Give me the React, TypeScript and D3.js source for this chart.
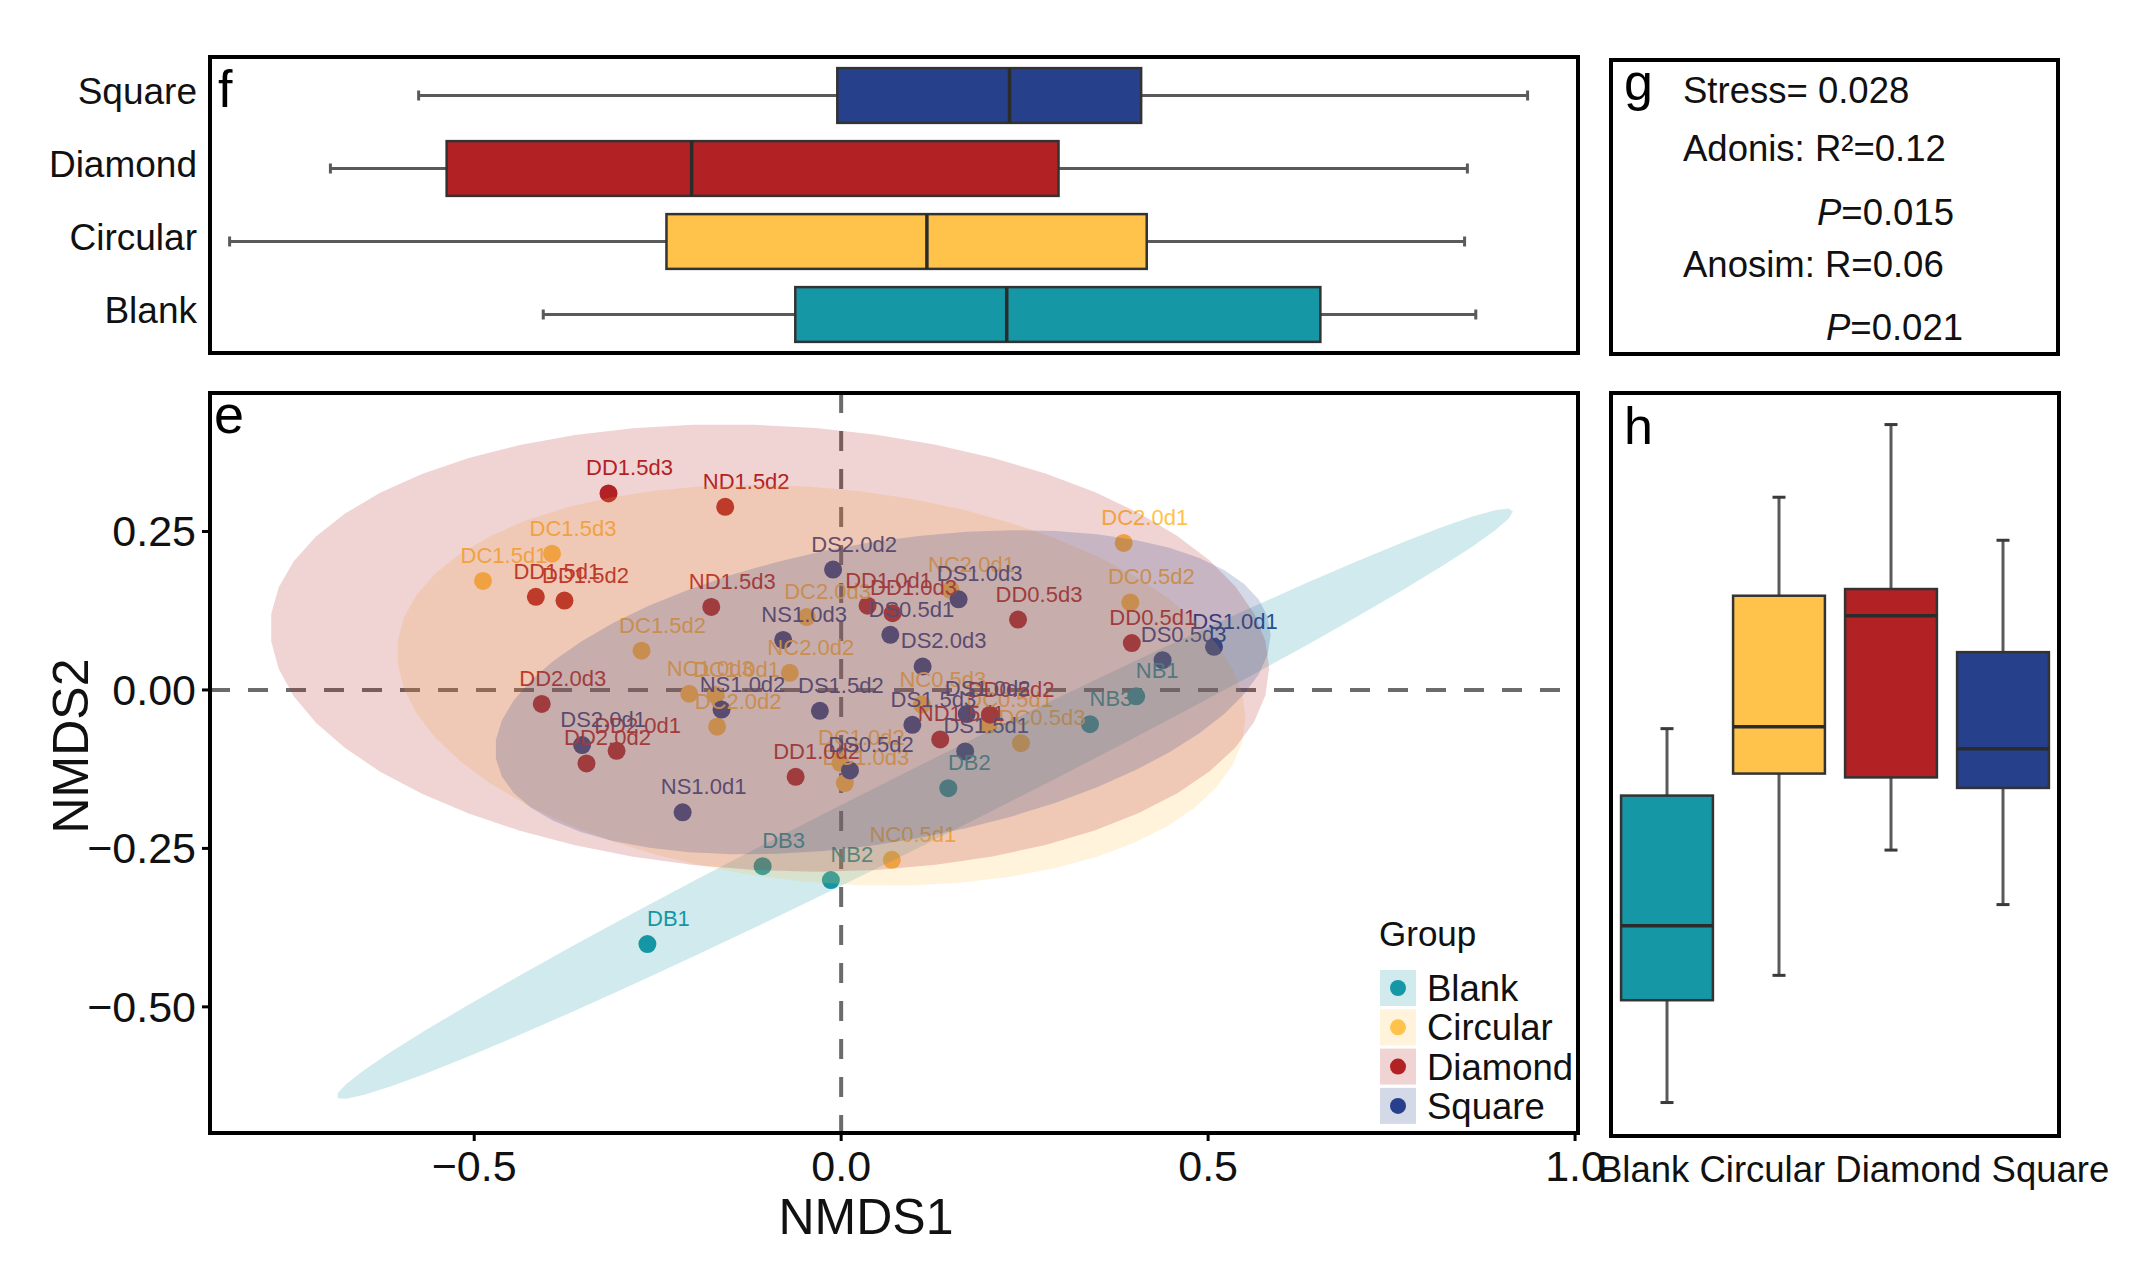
import React from 'react';
import * as d3 from 'd3';

// ---------- data ----------
const groups = ['Blank', 'Circular', 'Diamond', 'Square'];
const groupColors = ['#1597A5', '#FFC24A', '#B22225', '#26408B'];

// NMDS scores: [label, NMDS1, NMDS2]
const blankPoints: [string, number, number][] = [
  ['DB1', -0.264, -0.401], ['DB3', -0.107, -0.278], ['NB2', -0.014, -0.300],
  ['DB2', 0.146, -0.155], ['NB3', 0.339, -0.054], ['NB1', 0.402, -0.010],
];
const circularPoints: [string, number, number][] = [
  ['DC1.5d3', -0.394, 0.215], ['DC1.5d1', -0.488, 0.172], ['DC1.5d2', -0.272, 0.062],
  ['DC2.0d3', -0.047, 0.115], ['NC2.0d2', -0.070, 0.027], ['NC1.0d3', -0.207, -0.006],
  ['DC1.0d1', -0.171, -0.008], ['DC2.0d2', -0.169, -0.058], ['DC2.0d1', 0.385, 0.232],
  ['DC0.5d2', 0.394, 0.138], ['NC2.0d1', 0.149, 0.158], ['NC0.5d3', 0.110, -0.023],
  ['DC0.5d3', 0.245, -0.084], ['DC0.5d1', 0.201, -0.055], ['DC1.0d2', -0.001, -0.115],
  ['DC1.0d3', 0.005, -0.147], ['NC0.5d1', 0.069, -0.268],
];
const diamondPoints: [string, number, number][] = [
  ['DD1.5d3', -0.317, 0.310], ['ND1.5d2', -0.158, 0.289], ['DD1.5d1', -0.416, 0.147],
  ['DD1.5d2', -0.377, 0.141], ['ND1.5d3', -0.177, 0.131], ['DD1.0d1', 0.036, 0.133],
  ['DD1.0d3', 0.070, 0.121], ['DD0.5d3', 0.241, 0.111], ['DD0.5d1', 0.396, 0.074],
  ['DD2.0d3', -0.408, -0.022], ['DD2.0d1', -0.306, -0.096], ['DD2.0d2', -0.347, -0.116],
  ['DD1.0d2', -0.062, -0.137], ['ND1.5d1', 0.135, -0.078], ['DD0.5d2', 0.203, -0.039],
];
const squarePoints: [string, number, number][] = [
  ['DS2.0d2', -0.011, 0.190], ['DS1.0d3', 0.160, 0.143], ['DS0.5d1', 0.067, 0.087],
  ['NS1.0d3', -0.079, 0.079], ['DS2.0d3', 0.111, 0.037], ['NS1.0d2', -0.163, -0.031],
  ['DS1.5d2', -0.029, -0.033], ['DS1.5d3', 0.097, -0.055], ['DS1.0d2', 0.171, -0.038],
  ['DS1.5d1', 0.169, -0.097], ['DS0.5d2', 0.012, -0.127], ['NS1.0d1', -0.216, -0.193],
  ['DS2.0d1', -0.353, -0.087], ['DS0.5d3', 0.438, 0.047], ['DS1.0d1', 0.508, 0.068],
];
const groupPoints = [blankPoints, circularPoints, diamondPoints, squarePoints];

// boxplot statistics (order: Blank, Circular, Diamond, Square)
const nmds1Min = [-0.264, -0.488, -0.416, -0.353];
const nmds1Q1 = [-0.084, -0.176, -0.333, -0.054];
const nmds1Median = [0.067, 0.010, -0.158, 0.069];
const nmds1Q3 = [0.291, 0.167, 0.104, 0.163];
const nmds1Max = [0.402, 0.394, 0.396, 0.439];

const nmds2Min = [-0.401, -0.268, -0.137, -0.194];
const nmds2Q1 = [-0.294, -0.057, -0.061, -0.072];
const nmds2Median = [-0.216, -0.008, 0.108, -0.031];
const nmds2Q3 = [-0.080, 0.129, 0.136, 0.070];
const nmds2Max = [-0.010, 0.232, 0.308, 0.187];

const xTicks = [-0.5, 0, 0.5, 1.0];
const yTicks = [-0.5, -0.25, 0, 0.25];

const statLines = ['Stress= 0.028', 'Adonis: R²=0.12', '=0.015', 'Anosim: R=0.06', '=0.021'];

// ---------- stat_ellipse (type = "t", MASS::cov.trob) ----------
function tEllipse(pts: [string, number, number][], level = 0.95, segments = 51) {
  const n = pts.length, p = 2, nu = 5;
  const xs = pts.map(d => [d[1], d[2]]);
  let loc = [d3.mean(xs, d => d[0]) as number, d3.mean(xs, d => d[1]) as number];
  let w = xs.map(() => 1);
  let X = xs.map(d => [d[0] - loc[0], d[1] - loc[1]]);
  for (let iter = 0; iter < 25; iter++) {
    const w0 = w.slice();
    X = xs.map(d => [d[0] - loc[0], d[1] - loc[1]]);
    const sw = d3.sum(w);
    let a = 0, b = 0, c = 0;
    X.forEach((v, i) => {
      const f = w[i] / sw;
      a += f * v[0] * v[0]; b += f * v[0] * v[1]; c += f * v[1] * v[1];
    });
    const det = a * c - b * b;
    const Q = X.map(v => (c * v[0] * v[0] - 2 * b * v[0] * v[1] + a * v[1] * v[1]) / det);
    w = Q.map(q => (nu + p) / (nu + q));
    const sw2 = d3.sum(w);
    loc = [d3.sum(xs.map((d, i) => w[i] * d[0])) / sw2, d3.sum(xs.map((d, i) => w[i] * d[1])) / sw2];
    if (w.every((wi, i) => Math.abs(wi - w0[i]) < 0.01)) break;
  }
  let a = 0, b = 0, c = 0;
  X.forEach((v, i) => {
    a += w[i] * v[0] * v[0]; b += w[i] * v[0] * v[1]; c += w[i] * v[1] * v[1];
  });
  a /= n; b /= n; c /= n;
  const dfd = n - 1;
  const F = (dfd / 2) * (Math.pow(1 - level, -2 / dfd) - 1);
  const radius = Math.sqrt(2 * F);
  const r11 = Math.sqrt(a), r12 = b / r11, r22 = Math.sqrt(Math.max(c - r12 * r12, 0));
  const out: [number, number][] = [];
  for (let i = 0; i <= segments; i++) {
    const t = (i * 2 * Math.PI) / segments;
    out.push([loc[0] + radius * Math.cos(t) * r11, loc[1] + radius * (Math.cos(t) * r12 + Math.sin(t) * r22)]);
  }
  return out;
}

const FONT = "'Liberation Sans', Arial, Helvetica, sans-serif";

export default function App() {
  const W = 2152, H = 1271;

  // panel e
  const eL = 210, eR = 1578, eT = 393, eB = 1133;
  const xE = d3.scaleLinear().domain([-0.86, 1.004]).range([eL, eR]);
  const yE = d3.scaleLinear().domain([-0.699, 0.4685]).range([eB, eT]);

  // panel f
  const fT = 57, fB = 353;
  const xF = d3.scaleLinear().domain([-0.502, 0.475]).range([eL, eR]);
  const yF = d3.scaleBand().domain(['Square', 'Diamond', 'Circular', 'Blank']).range([fT + 2, fB - 2]);

  // panel g
  const gL = 1611, gR = 2058, gT = 60, gB = 354;

  // panel h
  const hL = 1611, hR = 2059, hT = 393, hB = 1136;
  const xH = d3.scaleBand().domain(groups).range([hL, hR]);
  const yH = d3.scaleLinear().domain([-0.436, 0.341]).range([hB, hT]);

  const fmt1 = d3.format('.1f');
  const fmt2 = d3.format('.2f');
  const ellLine = d3.line<[number, number]>().x(d => xE(d[0])).y(d => yE(d[1])).curve(d3.curveLinearClosed);

  const boxH = yF.bandwidth() * 0.75;
  const boxW = xH.bandwidth() * 0.82;

  return (
    <svg width={W} height={H} style={{ position: 'absolute', left: 0, top: 0 }} fontFamily={FONT}>
      <rect x={0} y={0} width={W} height={H} fill="#ffffff" />

      {/* ---------- panel f ---------- */}
      <g>
        {groups.map((g, i) => {
          const cy = (yF(g) as number) + yF.bandwidth() / 2;
          return (
            <g key={g}>
              <line x1={xF(nmds1Min[i])} x2={xF(nmds1Q1[i])} y1={cy} y2={cy} stroke="#5a5a5a" strokeWidth={3} />
              <line x1={xF(nmds1Q3[i])} x2={xF(nmds1Max[i])} y1={cy} y2={cy} stroke="#5a5a5a" strokeWidth={3} />
              <line x1={xF(nmds1Min[i])} x2={xF(nmds1Min[i])} y1={cy - 5} y2={cy + 5} stroke="#5a5a5a" strokeWidth={3} />
              <line x1={xF(nmds1Max[i])} x2={xF(nmds1Max[i])} y1={cy - 5} y2={cy + 5} stroke="#5a5a5a" strokeWidth={3} />
              <rect x={xF(nmds1Q1[i])} y={cy - boxH / 2} width={xF(nmds1Q3[i]) - xF(nmds1Q1[i])} height={boxH}
                fill={groupColors[i]} stroke="#333333" strokeWidth={2.5} />
              <line x1={xF(nmds1Median[i])} x2={xF(nmds1Median[i])} y1={cy - boxH / 2} y2={cy + boxH / 2} stroke="#2b2b2b" strokeWidth={3.5} />
              <text x={197} y={cy + 8} textAnchor="end" fontSize={37} fill="#111">{g}</text>
            </g>
          );
        })}
        <rect x={eL} y={fT} width={eR - eL} height={fB - fT} fill="none" stroke="#000" strokeWidth={4} />
        <text x={218} y={107} fontSize={52} fill="#000">f</text>
      </g>

      {/* ---------- panel g ---------- */}
      <g>
        <rect x={gL} y={gT} width={gR - gL} height={gB - gT} fill="none" stroke="#000" strokeWidth={4} />
        <text x={1624} y={100} fontSize={52} fill="#000">g</text>
        <text x={1683} y={103} fontSize={36.5} fill="#111">{statLines[0]}</text>
        <text x={1683} y={161} fontSize={36.5} fill="#111">{statLines[1]}</text>
        <text x={1817} y={225} fontSize={36.5} fill="#111"><tspan fontStyle="italic">P</tspan>{statLines[2]}</text>
        <text x={1683} y={277} fontSize={36.5} fill="#111">{statLines[3]}</text>
        <text x={1826} y={340} fontSize={36.5} fill="#111"><tspan fontStyle="italic">P</tspan>{statLines[4]}</text>
      </g>

      {/* ---------- panel e ---------- */}
      <g>
        <line x1={xE(0)} x2={xE(0)} y1={eT} y2={eB} stroke="#6b6b6b" strokeWidth={4} strokeDasharray="20 18" />
        <line x1={eL} x2={eR} y1={yE(0)} y2={yE(0)} stroke="#6b6b6b" strokeWidth={4} strokeDasharray="20 18" />
        {groupPoints.map((pts, gi) =>
          pts.map(d => (
            <circle key={d[0]} cx={xE(d[1])} cy={yE(d[2])} r={9} fill={groupColors[gi]} />
          ))
        )}
        {groupPoints.map((pts, gi) =>
          pts.map(d => (
            <text key={'t' + d[0]} x={xE(d[1]) + 21} y={yE(d[2]) - 18} textAnchor="middle" fontSize={22} fill={groupColors[gi]}>{d[0]}</text>
          ))
        )}
        {groupPoints.map((pts, gi) => (
          <path key={'e' + gi} d={ellLine(tEllipse(pts)) as string} fill={groupColors[gi]} fillOpacity={0.2} stroke="none" />
        ))}
        <rect x={eL} y={eT} width={eR - eL} height={eB - eT} fill="none" stroke="#000" strokeWidth={4} />
        <text x={214} y={433} fontSize={54} fill="#000">e</text>

        {/* axes */}
        {xTicks.map(t => (
          <g key={'xt' + t}>
            <line x1={xE(t)} x2={xE(t)} y1={eB} y2={eB + 8} stroke="#000" strokeWidth={3} />
            <text x={xE(t)} y={1181} textAnchor="middle" fontSize={43} fill="#111">{fmt1(t)}</text>
          </g>
        ))}
        {yTicks.map(t => (
          <g key={'yt' + t}>
            <line x1={eL - 8} x2={eL} y1={yE(t)} y2={yE(t)} stroke="#000" strokeWidth={3} />
            <text x={196} y={yE(t) + 15} textAnchor="end" fontSize={43} fill="#111">{fmt2(t)}</text>
          </g>
        ))}
        <text x={866} y={1234} textAnchor="middle" fontSize={50} fill="#111">NMDS1</text>
        <text transform={`translate(88, 746) rotate(-90)`} textAnchor="middle" fontSize={50} fill="#111">NMDS2</text>

        {/* legend */}
        <text x={1379} y={946} fontSize={35} fill="#111">Group</text>
        {groups.map((g, i) => {
          const ky = 970 + i * 39.3;
          return (
            <g key={'lg' + g}>
              <rect x={1380} y={ky} width={36} height={36} fill={groupColors[i]} fillOpacity={0.2} />
              <circle cx={1398} cy={ky + 18} r={8} fill={groupColors[i]} />
              <text x={1427} y={ky + 31} fontSize={36.5} fill="#111">{g}</text>
            </g>
          );
        })}
      </g>

      {/* ---------- panel h ---------- */}
      <g>
        {groups.map((g, i) => {
          const cx = (xH(g) as number) + xH.bandwidth() / 2;
          return (
            <g key={'h' + g}>
              <line x1={cx} x2={cx} y1={yH(nmds2Max[i])} y2={yH(nmds2Q3[i])} stroke="#5a5a5a" strokeWidth={3} />
              <line x1={cx} x2={cx} y1={yH(nmds2Q1[i])} y2={yH(nmds2Min[i])} stroke="#5a5a5a" strokeWidth={3} />
              <line x1={cx - 6.5} x2={cx + 6.5} y1={yH(nmds2Max[i])} y2={yH(nmds2Max[i])} stroke="#3a3a3a" strokeWidth={3} />
              <line x1={cx - 6.5} x2={cx + 6.5} y1={yH(nmds2Min[i])} y2={yH(nmds2Min[i])} stroke="#3a3a3a" strokeWidth={3} />
              <rect x={cx - boxW / 2} y={yH(nmds2Q3[i])} width={boxW} height={yH(nmds2Q1[i]) - yH(nmds2Q3[i])}
                fill={groupColors[i]} stroke="#333333" strokeWidth={2.5} />
              <line x1={cx - boxW / 2} x2={cx + boxW / 2} y1={yH(nmds2Median[i])} y2={yH(nmds2Median[i])} stroke="#2b2b2b" strokeWidth={3.5} />
            </g>
          );
        })}
        <rect x={hL} y={hT} width={hR - hL} height={hB - hT} fill="none" stroke="#000" strokeWidth={4} />
        <text x={1624} y={444} fontSize={52} fill="#000">h</text>
        <text x={1598} y={1182} fontSize={36.5} fill="#111">{groups.join(' ')}</text>
      </g>
    </svg>
  );
}
